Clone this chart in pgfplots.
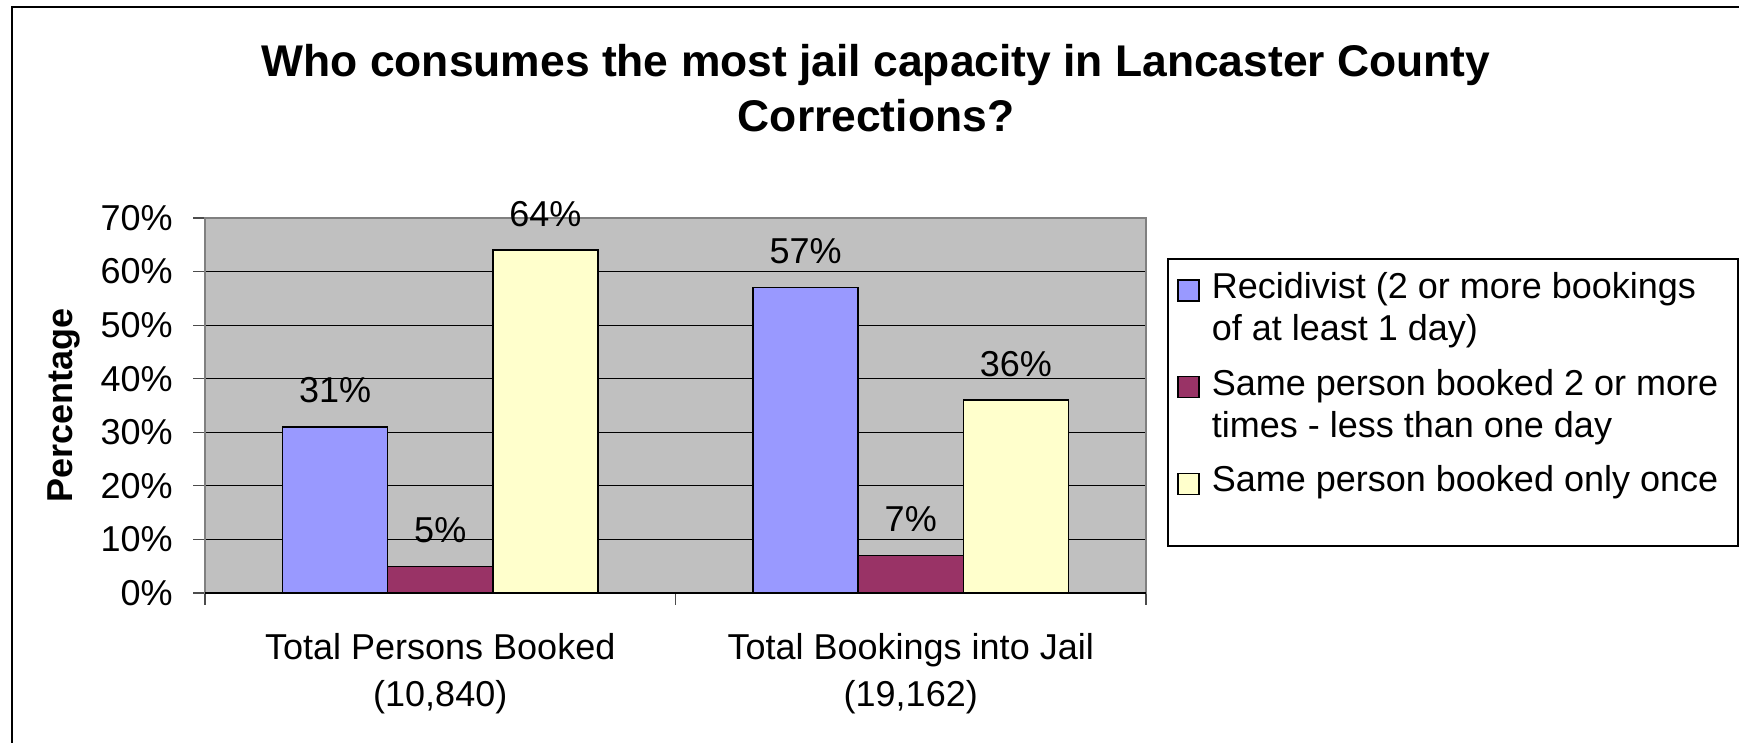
\documentclass[border=0pt]{standalone}
\usepackage{fontspec}
\setmainfont{Liberation Sans}
\usepackage{pgfplots}
\pgfplotsset{compat=1.18}
\pgfkeys{/pgf/number format/assume math mode=true}

\definecolor{recid}{HTML}{9999FF}
\definecolor{short}{HTML}{993366}
\definecolor{once}{HTML}{FFFFCC}
\definecolor{plotbg}{HTML}{C0C0C0}

\begin{document}
\begin{tikzpicture}[font=\fontsize{18}{21}\selectfont]
\path[use as bounding box] (0,0) rectangle (869.5pt,371.5pt);
% chart area frame (right and bottom edges fall outside the picture)
\draw[line width=0.7pt] (6pt,-2pt) -- (6pt,368pt) -- (872pt,368pt);
\node[font=\fontsize{22.2}{27}\selectfont\bfseries, anchor=base] at (438pt,333pt)
  {Who consumes the most jail capacity in Lancaster County};
\node[font=\fontsize{22.2}{27}\selectfont\bfseries, anchor=base] at (438pt,305.5pt)
  {Corrections?};
% legend frame
\draw[line width=0.6pt, fill=white] (584pt,98.5pt) rectangle (869pt,242pt);

\begin{axis}[
  at={(102.5pt,75pt)}, anchor=south west,
  scale only axis, width=470.5pt, height=187.5pt,
  xmin=-0.5, xmax=1.5, ymin=0, ymax=70,
  clip=false,
  axis background/.style={fill=plotbg},
  axis line style={draw=gray, line width=0.6pt},
  ybar,
  legend image code/.code={\draw[#1] (0pt,5pt) rectangle (10.5pt,15.5pt);},
  tick pos=left, tick align=outside,
  ytick={0,10,...,70},
  yticklabel={\pgfmathprintnumber{\tick}\%},
  yticklabel style={anchor=east, inner sep=0pt, xshift=-10pt},
  ymajorgrids, grid style={black, line width=0.5pt},
  major tick length=6pt, minor tick length=6pt,
  ytick style={black!70, line width=0.6pt},
  xtick={0,1},
  xticklabels={{\fontsize{18}{23.5}\selectfont\begin{tabular}[t]{@{}c@{}}Total Persons Booked\\(10,840)\end{tabular}},
               {\fontsize{18}{23.5}\selectfont\begin{tabular}[t]{@{}c@{}}Total Bookings into Jail\\(19,162)\end{tabular}}},
  xticklabel style={anchor=base, inner sep=0pt, yshift=-27.5pt},
  major x tick style={draw=none},
  minor xtick={-0.5,0.5,1.5},
  minor x tick style={black!70, line width=0.6pt},
  ylabel={Percentage},
  ylabel style={font=\fontsize{18}{21}\selectfont\bfseries, at={(rel axis cs:-0.1498,0.5)}, anchor=center},
  nodes near coords={\pgfmathprintnumber{\pgfplotspointmeta}\%},
  every node near coord/.append style={anchor=base, yshift=12pt, inner sep=0pt, black},
  legend style={draw=none, fill=none, at={(rel axis cs:1.033,0.876)}, anchor=north west,
    inner sep=0pt, row sep=2.4pt, column sep=4pt,
    nodes={text depth=, text height=}},
  legend cell align=left,
]
\addplot[fill=recid, draw=black, line width=0.7pt, bar width=0.2236, bar shift=-0.2236]
  coordinates {(0,31) (1,57)};
\addlegendentry{\begin{tabular}[t]{@{}l@{}}Recidivist (2 or more bookings\\of at least 1 day)\end{tabular}}
\addplot[fill=short, draw=black, line width=0.7pt, bar width=0.2236, bar shift=0]
  coordinates {(0,5) (1,7)};
\addlegendentry{\begin{tabular}[t]{@{}l@{}}Same person booked 2 or more\\times - less than one day\end{tabular}}
\addplot[fill=once, draw=black, line width=0.7pt, bar width=0.2236, bar shift=0.2236]
  coordinates {(0,64) (1,36)};
\addlegendentry{\begin{tabular}[t]{@{}l@{}}Same person booked only once\\\mbox{}\end{tabular}}
\draw[black, line width=0.6pt] (rel axis cs:0,0) -- (rel axis cs:1,0);
\end{axis}
\end{tikzpicture}
\end{document}
